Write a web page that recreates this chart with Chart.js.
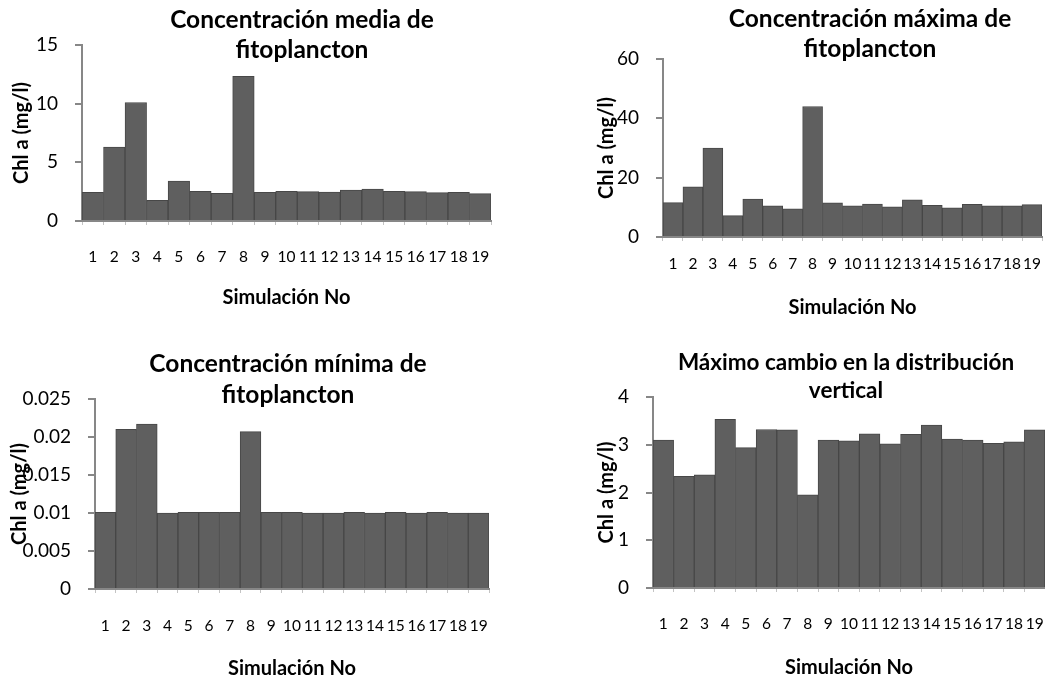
<!DOCTYPE html>
<html lang="es">
<head>
<meta charset="utf-8">
<title>Simulaciones de fitoplancton</title>
<script src="https://cdn.jsdelivr.net/npm/chart.js@4.4.1/dist/chart.umd.min.js"></script>
<style>
    html, body { margin: 0; padding: 0; background: #fff; overflow: hidden; }
    #page { position: relative; width: 1045px; height: 678px; }
    canvas { position: absolute; }
</style>
</head>
<body>
<div id="page">
    <canvas id="chartMedia" width="520" height="330" style="left:0;top:0"></canvas>
    <canvas id="chartMaxima" width="525" height="330" style="left:520px;top:0"></canvas>
    <canvas id="chartMinima" width="520" height="348" style="left:0;top:330px"></canvas>
    <canvas id="chartCambio" width="525" height="348" style="left:520px;top:330px"></canvas>
</div>
<script>
// Datos de las simulaciones
const simulaciones = ['1', '2', '3', '4', '5', '6', '7', '8', '9', '10',
    '11', '12', '13', '14', '15', '16', '17', '18', '19'];

const concMedia = [2.45, 6.3, 10.1, 1.76, 3.4, 2.53, 2.36, 12.33, 2.45, 2.53,
    2.5, 2.47, 2.64, 2.73, 2.53, 2.5, 2.42, 2.45, 2.33];
const concMaxima = [11.6, 16.9, 30.0, 7.2, 12.75, 10.5, 9.5, 44.0, 11.5, 10.5,
    11.06, 10.15, 12.5, 10.7, 9.8, 11.0, 10.5, 10.5, 10.9];
const concMinima = [0.0101, 0.021, 0.0217, 0.0100, 0.0101, 0.0101, 0.0101, 0.0207, 0.0101, 0.0101,
    0.0100, 0.0100, 0.0101, 0.0100, 0.0101, 0.0100, 0.0101, 0.0100, 0.0100];
const cambioVertical = [3.10, 2.34, 2.37, 3.53, 2.94, 3.32, 3.31, 1.95, 3.10, 3.08,
    3.23, 3.02, 3.22, 3.41, 3.12, 3.10, 3.03, 3.06, 3.31];

// Escalas del eje Y: [max, paso]
const ejeMedia = [15, 5];
const ejeMaxima = [60, 20];
const ejeMinima = [0.025, 0.005];
const ejeCambio = [4, 1];

const tituloMedia = ['Concentración media de', 'fitoplancton'];
const tituloMaxima = ['Concentración máxima de', 'fitoplancton'];
const tituloMinima = ['Concentración mínima de', 'fitoplancton'];
const tituloCambio = ['Máximo cambio en la distribución', 'vertical'];

const etiquetaY = 'Chl a (mg/l)';
const etiquetaX = 'Simulación No';

const FONT = 'Lato, "Open Sans", sans-serif';
const GRIS_EJE = '#878787';

// Titulo que se superpone al area del grafico (como en el original)
const overlayTitle = {
    id: 'overlayTitle',
    afterDraw(chart, args, opts) {
        if (!opts.lines) return;
        const ctx = chart.ctx;
        ctx.save();
        ctx.fillStyle = '#000';
        ctx.font = 'bold ' + opts.size + 'px ' + FONT;
        ctx.textAlign = 'center';
        ctx.textBaseline = 'alphabetic';
        opts.lines.forEach((line, i) => {
            ctx.fillText(line, opts.x, opts.y + i * opts.gap);
        });
        ctx.restore();
    }
};

function createBarChart(id, values, eje, titulo, layout) {
    const ctx = document.getElementById(id);
    if (!ctx) return null;

    return new Chart(ctx.getContext('2d'), {
        type: 'bar',
        data: {
            labels: simulaciones,
            datasets: [{
                data: values,
                backgroundColor: '#5f5f5f',
                borderColor: '#474747',
                borderWidth: 1,
                barPercentage: 1,
                categoryPercentage: 1
            }]
        },
        options: {
            responsive: false,
            animation: false,
            layout: {
                padding: { left: 0, right: layout.right, top: layout.top, bottom: 0 }
            },
            plugins: {
                legend: { display: false },
                tooltip: { enabled: false },
                overlayTitle: {
                    lines: titulo,
                    x: layout.titleX,
                    y: layout.titleY,
                    gap: layout.titleGap,
                    size: layout.titleSize
                }
            },
            scales: {
                x: {
                    afterFit: (scale) => {
                        scale.height = layout.xHeight;
                        // sin margen extra por la ultima etiqueta
                        scale.paddingLeft = 0;
                        scale.paddingRight = 0;
                    },
                    border: { display: true, color: GRIS_EJE, width: 2 },
                    grid: {
                        display: true,
                        drawOnChartArea: false,
                        tickLength: 4,
                        color: '#c4c4c4',
                        lineWidth: 1
                    },
                    ticks: {
                        autoSkip: false,
                        maxRotation: 0,
                        color: '#000',
                        padding: layout.xTickPad,
                        font: { family: FONT, size: 15.5 }
                    },
                    title: {
                        display: true,
                        text: etiquetaX,
                        color: '#000',
                        font: { family: FONT, size: 20, weight: 'bold' },
                        padding: { top: 0, bottom: layout.xTitlePad }
                    }
                },
                y: {
                    min: 0,
                    max: eje[0],
                    afterFit: (scale) => { scale.width = layout.yWidth; },
                    border: { display: true, color: GRIS_EJE, width: 2 },
                    grid: {
                        display: true,
                        drawOnChartArea: false,
                        tickLength: 7,
                        color: GRIS_EJE,
                        lineWidth: 2
                    },
                    ticks: {
                        stepSize: eje[1],
                        color: '#000',
                        padding: 17,
                        font: { family: FONT, size: 19 },
                        callback: (value) => Number(value.toFixed(4)).toString()
                    },
                    title: {
                        display: true,
                        text: etiquetaY,
                        color: '#000',
                        font: { family: FONT, size: 20, weight: 'bold' },
                        padding: { top: layout.yTitlePad, bottom: 0 }
                    }
                }
            }
        },
        plugins: [overlayTitle]
    });
}

let mediaChart = null;
let maximaChart = null;
let minimaChart = null;
let cambioChart = null;

function initCharts() {
    mediaChart = createBarChart('chartMedia', concMedia, ejeMedia, tituloMedia, {
        right: 29, top: 45, yWidth: 82, xHeight: 109,
        xTickPad: 23, xTitlePad: 20, yTitlePad: 10,
        titleX: 302, titleY: 28, titleGap: 30, titleSize: 24.5
    });
    maximaChart = createBarChart('chartMaxima', concMaxima, ejeMaxima, tituloMaxima, {
        right: 3, top: 59, yWidth: 143, xHeight: 93,
        xTickPad: 14, xTitlePad: 10, yTitlePad: 75,
        titleX: 350, titleY: 27, titleGap: 30, titleSize: 24.5
    });
    minimaChart = createBarChart('chartMinima', concMinima, ejeMinima, tituloMinima, {
        right: 31, top: 69, yWidth: 95, xHeight: 89,
        xTickPad: 24, xTitlePad: -3, yTitlePad: 8,
        titleX: 288, titleY: 42, titleGap: 31, titleSize: 24.5
    });
    cambioChart = createBarChart('chartCambio', cambioVertical, ejeCambio, tituloCambio, {
        right: 0, top: 67, yWidth: 133, xHeight: 90,
        xTickPad: 23, xTitlePad: -2, yTitlePad: 75,
        titleX: 326, titleY: 40, titleGap: 28, titleSize: 22.5
    });
}

document.addEventListener('DOMContentLoaded', initCharts);
</script>
</body>
</html>
